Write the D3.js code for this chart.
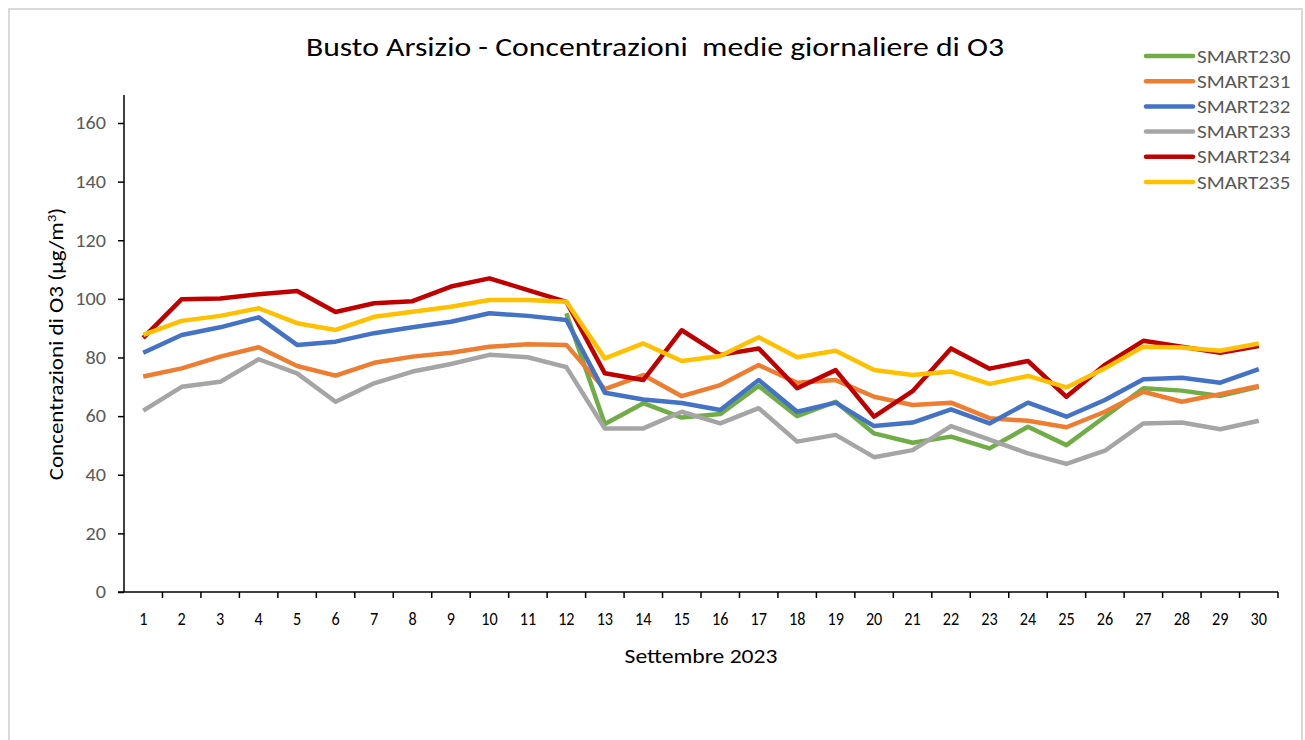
<!DOCTYPE html>
<html>
<head>
<meta charset="utf-8">
<script src="https://cdn.jsdelivr.net/npm/d3@7"></script>
<style>
  body { margin: 0; background: #fff; }
  text { font-family: Carlito, Lato, "Open Sans", sans-serif; }
</style>
</head>
<body>
<script>
// days of September 2023
let days = d3.range(1, 31);
let yTicks = [0, 20, 40, 60, 80, 100, 120, 140, 160];

let smart230 = [null, null, null, null, null, null, null, null, null, null, null, 95.1,
  57.3, 64.4, 59.5, 60.7, 70.3, 60, 64.9, 54.1, 50.9, 53, 49, 56.4, 50.1, 59.8, 69.5, 68.7, 66.9, 70];
let smart231 = [73.5, 76.3, 80.3, 83.5, 77.1, 73.8, 78.2, 80.3, 81.6, 83.7, 84.5, 84.3,
  69.2, 74, 66.8, 70.6, 77.4, 71.4, 72.3, 66.6, 63.8, 64.6, 59.3, 58.4, 56.2, 61.5, 68.3, 64.9, 67.5, 70.3];
let smart232 = [81.6, 87.7, 90.3, 93.7, 84.3, 85.4, 88.3, 90.3, 92.2, 95.1, 94.2, 92.8,
  68, 65.7, 64.5, 62.1, 72.3, 61.5, 64.6, 56.6, 57.8, 62.3, 57.5, 64.6, 59.8, 65.5, 72.6, 73.1, 71.4, 76];
let smart233 = [61.9, 70, 71.7, 79.4, 74.6, 64.9, 71.2, 75.2, 77.8, 80.9, 80.1, 76.7,
  55.8, 55.8, 61.5, 57.5, 62.7, 51.3, 53.6, 46, 48.4, 56.6, 52, 47.3, 43.7, 48.2, 57.5, 57.8, 55.5, 58.4];
let smart234 = [86.7, 99.9, 100.1, 101.6, 102.7, 95.5, 98.5, 99.2, 104.2, 107, 103, 99,
  74.6, 72.3, 89.3, 80.9, 83.1, 69.5, 75.7, 59.8, 68.5, 83.1, 76.2, 78.8, 66.6, 77.5, 85.7, 83.7, 81.6, 83.9];
let smart235 = [87.7, 92.5, 94.2, 96.8, 91.7, 89.4, 93.9, 95.6, 97.3, 99.6, 99.6, 99,
  79.7, 84.8, 78.8, 80.5, 86.9, 80.1, 82.3, 75.7, 74, 75.2, 71, 73.7, 69.8, 76.3, 83.7, 83.4, 82.3, 84.8];

let seriesNames = ['SMART230', 'SMART231', 'SMART232', 'SMART233', 'SMART234', 'SMART235'];
let seriesColors = ['#70ad47', '#ed7d31', '#4472c4', '#a5a5a5', '#c00000', '#ffc000'];
let seriesValues = [smart230, smart231, smart232, smart233, smart234, smart235];

let width = 1305, height = 740;
let plotLeft = 124, plotRight = 1278, plotTop = 123, plotBottom = 592;

let svg = d3.select('body').append('svg').attr('width', width).attr('height', height);

// chart frame
svg.append('rect')
  .attr('x', 9).attr('y', 9).attr('width', 1293).attr('height', 780)
  .attr('fill', 'white').attr('stroke', '#d9d9d9').attr('stroke-width', 2);

let x = d3.scaleBand().domain(days).range([plotLeft, plotRight]);
let y = d3.scaleLinear().domain([0, 160]).range([plotBottom, plotTop]);

// y axis (labels a bit wide, like the original)
let yAxis = svg.append('g')
  .attr('transform', 'translate(' + plotLeft + ',0)')
  .call(d3.axisLeft(y).tickValues(yTicks).tickSize(6).tickPadding(12));
yAxis.select('.domain').attr('d', 'M0,' + plotBottom + 'V95').attr('stroke', '#000').attr('stroke-width', 1.5);
yAxis.selectAll('.tick line').attr('stroke', '#000').attr('stroke-width', 1.5);
yAxis.selectAll('.tick text')
  .attr('fill', '#595959').attr('font-size', '18px')
  .attr('x', -18 / 1.12)
  .attr('transform', 'scale(1.12,1)')
  .style('font-family', 'Carlito, Lato, "Open Sans", sans-serif');

// x axis, ticks between categories
let xAxis = svg.append('g')
  .attr('transform', 'translate(0,' + plotBottom + ')')
  .call(d3.axisBottom(x).tickSize(0).tickPadding(20));
xAxis.select('.domain').attr('d', 'M' + (plotLeft - 6) + ',0H' + plotRight).attr('stroke', '#000').attr('stroke-width', 1.5);
xAxis.selectAll('.tick text')
  .attr('fill', '#000').attr('font-size', '18px')
  .attr('transform', 'scale(0.9,1)')
  .style('font-family', 'Carlito, Lato, "Open Sans", sans-serif');
svg.append('g').selectAll('line')
  .data(days)
  .enter().append('line')
  .attr('x1', d => x(d) + x.bandwidth()).attr('x2', d => x(d) + x.bandwidth())
  .attr('y1', plotBottom).attr('y2', plotBottom + 6)
  .attr('stroke', '#000').attr('stroke-width', 1.5);

// lines
let line = d3.line()
  .defined(d => d != null)
  .x((d, i) => x(days[i]) + x.bandwidth() / 2)
  .y(d => y(d));

svg.append('g').selectAll('path')
  .data(seriesValues)
  .enter().append('path')
  .attr('d', d => line(d))
  .attr('fill', 'none')
  .attr('stroke', (d, i) => seriesColors[i])
  .attr('stroke-width', 4.5)
  .attr('stroke-linejoin', 'round');

// title
svg.append('text')
  .attr('transform', 'translate(655,56) scale(1.22,1)')
  .attr('text-anchor', 'middle')
  .attr('font-size', '26px')
  .attr('fill', '#000')
  .style('white-space', 'pre')
  .text('Busto Arsizio - Concentrazioni  medie giornaliere di O3');

// axis titles
svg.append('text')
  .attr('transform', 'translate(701,663) scale(1.18,1)')
  .attr('text-anchor', 'middle')
  .attr('font-size', '20px')
  .text('Settembre 2023');

let yt = svg.append('text')
  .attr('transform', 'translate(63,344) rotate(-90) scale(1.15,1)')
  .attr('text-anchor', 'middle')
  .attr('font-size', '20px');
yt.append('tspan').text('Concentrazioni di O3 (µg/m');
yt.append('tspan').attr('dy', -7).attr('font-size', '13px').text('3');
yt.append('tspan').attr('dy', 7).text(')');

// legend
let legend = svg.append('g').selectAll('g')
  .data(seriesNames)
  .enter().append('g')
  .attr('transform', (d, i) => 'translate(1146,' + (56 + i * 25.2) + ')');
legend.append('line')
  .attr('x1', 0).attr('x2', 47)
  .attr('stroke', (d, i) => seriesColors[i])
  .attr('stroke-width', 4.5)
  .attr('stroke-linecap', 'round');
legend.append('text')
  .attr('transform', 'translate(51,6.5) scale(1.17,1)')
  .attr('font-size', '18px')
  .attr('fill', '#595959')
  .text(d => d);
</script>
</body>
</html>
